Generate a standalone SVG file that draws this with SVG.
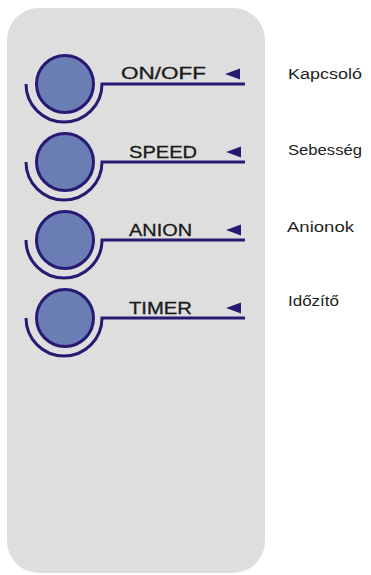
<svg xmlns="http://www.w3.org/2000/svg" width="371" height="575" viewBox="0 0 371 575">
<defs>
<style>
.btn{fill:#6a7db5;stroke:#261a72;stroke-width:3}
.ring{fill:none;stroke:#261a72;stroke-width:3}
.tri{fill:#261a72}
.lbl{font-family:"Liberation Sans",Arial,sans-serif;font-size:17px;fill:#1a1a1a;stroke:#1a1a1a;stroke-width:0.3}
.desc{font-family:"Liberation Sans",Arial,sans-serif;font-size:15.5px;fill:#222}
</style>
</defs>
<rect width="371" height="575" fill="#ffffff"/>
<rect id="panel" x="7" y="8" width="258" height="565" rx="32" ry="32" fill="#dedede"/>
<g id="connectors">
<path class="ring" d="M26 84 A38 38 0 0 0 102 84 L245 84"/>
<path class="ring" d="M26 162 A38 38 0 0 0 102 162 L245 162"/>
<path class="ring" d="M26 240 A38 38 0 0 0 102 240 L245 240"/>
<path class="ring" d="M26 318 A38 38 0 0 0 102 318 L245 318"/>
</g>
<g id="btn-onoff">
<circle class="btn" cx="65" cy="84" r="28.5"/>
<text class="lbl" x="121" y="79" textLength="85" lengthAdjust="spacingAndGlyphs">ON/OFF</text>
<polygon class="tri" points="225,74 240,68.5 240,79.5"/>
</g>
<g id="btn-speed">
<circle class="btn" cx="65" cy="162" r="28.5"/>
<text class="lbl" x="129" y="157.5" textLength="68" lengthAdjust="spacingAndGlyphs">SPEED</text>
<polygon class="tri" points="226,152 241,146.5 241,157.5"/>
</g>
<g id="btn-anion">
<circle class="btn" cx="65" cy="240" r="28.5"/>
<text class="lbl" x="129" y="235.5" textLength="63" lengthAdjust="spacingAndGlyphs">ANION</text>
<polygon class="tri" points="226,230 241,224.5 241,235.5"/>
</g>
<g id="btn-timer">
<circle class="btn" cx="65" cy="318" r="28.5"/>
<text class="lbl" x="129" y="313.5" textLength="63" lengthAdjust="spacingAndGlyphs">TIMER</text>
<polygon class="tri" points="226,308 241,302.5 241,313.5"/>
</g>
<g id="desc-onoff"><text class="desc" x="288" y="79" textLength="74" lengthAdjust="spacingAndGlyphs">Kapcsoló</text></g>
<g id="desc-speed"><text class="desc" x="288" y="155" textLength="74" lengthAdjust="spacingAndGlyphs">Sebesség</text></g>
<g id="desc-anion"><text class="desc" x="287" y="232" textLength="67" lengthAdjust="spacingAndGlyphs">Anionok</text></g>
<g id="desc-timer"><text class="desc" x="288" y="306" textLength="51" lengthAdjust="spacingAndGlyphs">Időzítő</text></g>
</svg>
